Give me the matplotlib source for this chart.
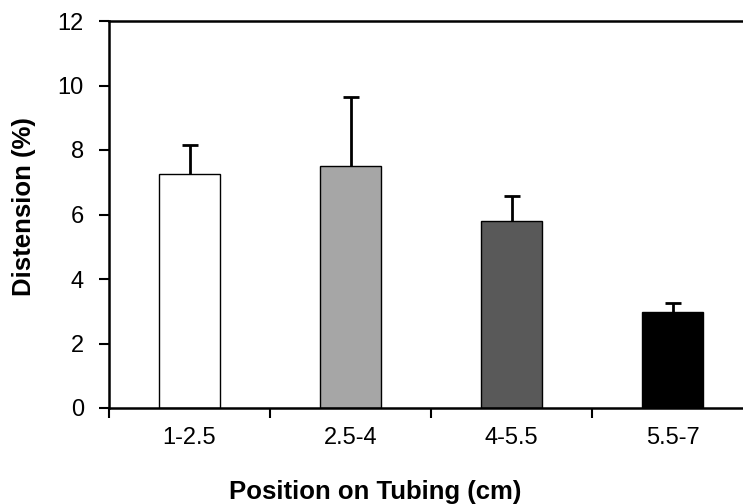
import numpy as np
import matplotlib
matplotlib.use("Agg")
import matplotlib.pyplot as plt

# Data
positions = ['1-2.5', '2.5-4', '4-5.5', '5.5-7']
distension = [7.25, 7.50, 5.79, 2.98]
err_upper = [0.90, 2.13, 0.79, 0.29]
bar_colors = ['#FFFFFF', '#A6A6A6', '#595959', '#000000']

plt.rcParams['font.family'] = ['Liberation Sans', 'DejaVu Sans']

W, H = 743, 504
fig = plt.figure(figsize=(W / 100, H / 100), dpi=100)
# axes box in pixels: left spine 109, bottom 408, top 21, right off the canvas (753)
ax = fig.add_axes([109 / W, (H - 408) / H, (753 - 109) / W, (408 - 21) / H])

x = np.arange(len(positions))
ax.bar(x, distension, width=0.385, color=bar_colors, edgecolor='black', linewidth=1.0, zorder=2)
_, caps, _ = ax.errorbar(x, distension, yerr=[np.zeros(len(x)), err_upper], fmt='none',
                         ecolor='black', elinewidth=2.0, capsize=5.5, capthick=2.0, zorder=3)
caps[0].set_visible(False)  # only the upper cap, as in the original

ax.set_xlim(-0.5, 3.5)
ax.set_ylim(0, 12)
ax.set_yticks(np.arange(0, 13, 2))

# tick marks at category boundaries, labels under the bars
ax.set_xticks(np.arange(-0.5, 3.0, 1.0))
ax.set_xticklabels([])
ax.set_xticks(x, minor=True)
ax.set_xticklabels(positions, minor=True)
ax.tick_params(axis='x', which='minor', length=0, pad=14, labelsize=17)
ax.tick_params(axis='x', which='major', direction='out', length=7, width=1.5)
ax.tick_params(axis='y', direction='out', length=7, width=1.5, labelsize=17, pad=11)

for side in ['left', 'bottom', 'top']:
    ax.spines[side].set_linewidth(1.8)
ax.spines['right'].set_visible(False)

fig.text(375 / W, 1 - 492 / H, 'Position on Tubing (cm)', ha='center', va='center',
         fontsize=18.5, fontweight='bold')
fig.text(24 / W, 1 - 207 / H, 'Distension (%)', ha='center', va='center',
         rotation=90, fontsize=18.5, fontweight='bold')

fig.savefig('out.png', dpi=100)
